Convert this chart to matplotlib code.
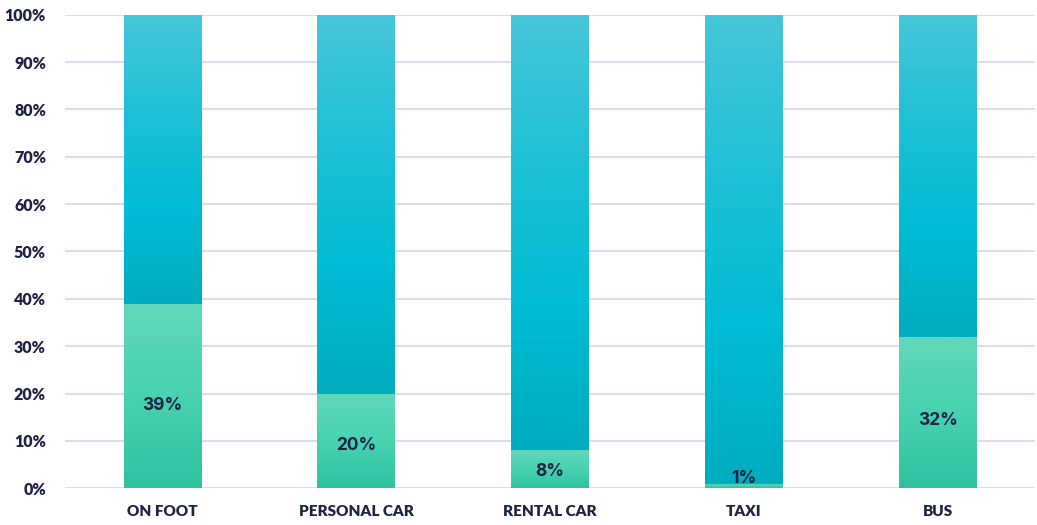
import numpy as np
import matplotlib.pyplot as plt
from matplotlib.colors import LinearSegmentedColormap

# ----- Data ----- #
modes = ["ON FOOT", "PERSONAL CAR", "RENTAL CAR", "TAXI", "BUS"]
share = [39, 20, 8, 1, 32]          # green part, percent
rest = [100 - s for s in share]     # cyan part up to 100%
yticks = [0, 10, 20, 30, 40, 50, 60, 70, 80, 90, 100]

navy = "#1e2244"
grid_col = "#d8d3f0"

# gradients run bottom -> top
green_cmap = LinearSegmentedColormap.from_list("g", ["#2dc29f", "#48d2b0", "#62d8bb"])
cyan_cmap = LinearSegmentedColormap.from_list("c", ["#00acc0", "#00bcd4", "#1fc0d6", "#47c6d9"])

fig, ax = plt.subplots(figsize=(10.37, 5.25), dpi=100)
fig.subplots_adjust(left=0.063, right=0.998, top=0.972, bottom=0.07)

x = np.arange(len(modes))
bars_low = ax.bar(x, share, width=0.4, color="none", zorder=2)
bars_high = ax.bar(x, rest, width=0.4, bottom=share, color="none", zorder=2)


def fill_gradient(bars, cmap):
    grad = np.linspace(0, 1, 256).reshape(-1, 1)
    for b in bars:
        x0, y0 = b.get_x(), b.get_y()
        w, h = b.get_width(), b.get_height()
        if h <= 0:
            continue
        im = ax.imshow(grad, cmap=cmap, aspect="auto", origin="lower",
                       extent=(x0, x0 + w, y0, y0 + h), zorder=2)
        im.set_clip_path(b)


fill_gradient(bars_low, green_cmap)
fill_gradient(bars_high, cyan_cmap)

# value labels inside the green part
for xi, s in zip(x, share):
    ax.text(xi, max(s * 0.45, 2.0), f"{s}%", ha="center", va="center",
            fontsize=12.5, fontweight="bold", color=navy, family="Inter", zorder=3)

ax.set_xlim(-0.5, len(modes) - 0.5)
ax.set_ylim(0, 100)
ax.set_yticks(yticks)
ax.set_yticklabels([f"{t}%" for t in yticks])
ax.set_xticks(x)
ax.set_xticklabels(modes)
for lab in ax.get_xticklabels() + ax.get_yticklabels():
    lab.set_fontweight("heavy")
    lab.set_fontsize(11.5)
    lab.set_color(navy)
    lab.set_family("Lato")
for lab in ax.get_xticklabels():
    lab.set_fontsize(11)

ax.yaxis.grid(True, color=grid_col, linewidth=1.2, zorder=0)
ax.set_axisbelow(True)
ax.tick_params(length=0)
ax.tick_params(axis="x", pad=12)
ax.tick_params(axis="y", pad=14)
for sp in ax.spines.values():
    sp.set_visible(False)

plt.savefig("out.png", dpi=100)
